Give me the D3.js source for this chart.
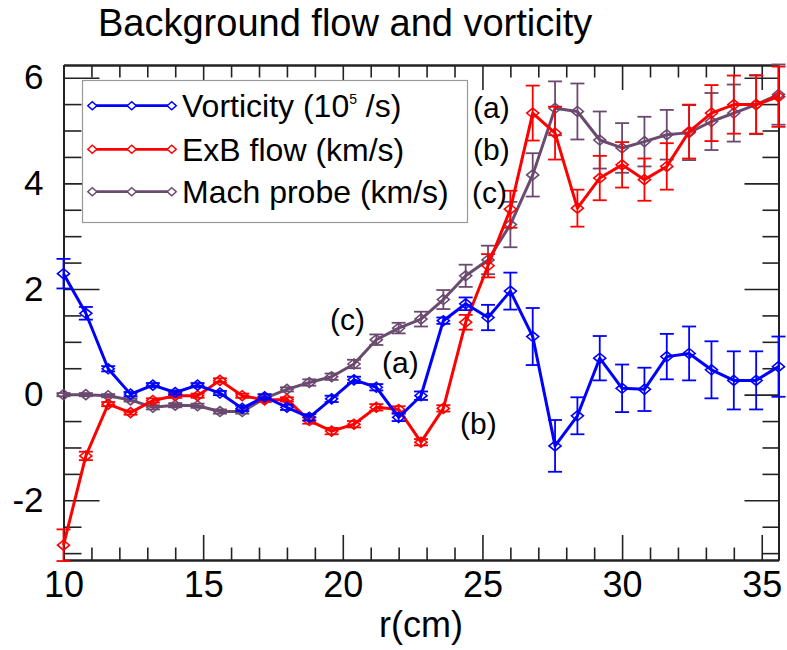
<!DOCTYPE html>
<meta charset="utf-8">
<style>
body { margin: 0; background: white; }
svg { display: block; }
text { font-family: "Liberation Sans", Arial, Helvetica, sans-serif; fill: black; }
.axis path, .axis line { stroke: #222; }
</style>
<body>
<script src="https://cdn.jsdelivr.net/npm/d3@7"></script>
<script>
// radius (cm)
var r = [10.0, 10.8, 11.6, 12.4, 13.2, 14.0, 14.8, 15.6, 16.4, 17.2, 18.0,
         18.8, 19.6, 20.4, 21.2, 22.0, 22.8, 23.6, 24.4, 25.2, 26.0, 26.8,
         27.6, 28.4, 29.2, 30.0, 30.8, 31.6, 32.4, 33.2, 34.0, 34.8, 35.6];

var vorticity = [2.29, 1.54, 0.49, 0.01, 0.18, 0.04, 0.18, 0.03, -0.26, -0.04, -0.24,
                 -0.43, -0.08, 0.28, 0.14, -0.43, -0.02, 1.40, 1.72, 1.46, 1.96, 1.10,
                 -0.97, -0.40, 0.69, 0.12, 0.10, 0.72, 0.78, 0.47, 0.27, 0.27, 0.53];
var vorticityErr = [0.28, 0.12, 0.05, 0.04, 0.04, 0.04, 0.04, 0.04, 0.05, 0.05, 0.05,
                    0.06, 0.06, 0.06, 0.06, 0.07, 0.08, 0.06, 0.12, 0.24, 0.35, 0.54,
                    0.49, 0.35, 0.42, 0.45, 0.41, 0.43, 0.51, 0.54, 0.55, 0.55, 0.57];

var exb = [-2.85, -1.16, -0.18, -0.34, -0.11, -0.02, -0.02, 0.27, -0.02, -0.10, -0.09,
           -0.49, -0.69, -0.56, -0.24, -0.28, -0.90, -0.26, 1.37, 2.44, 3.51, 5.33,
           4.95, 3.53, 4.10, 4.35, 4.07, 4.32, 4.98, 5.33, 5.49, 5.49, 5.64];
var exbErr = [0.30, 0.08, 0.04, 0.04, 0.04, 0.04, 0.04, 0.04, 0.04, 0.04, 0.04,
              0.06, 0.06, 0.06, 0.06, 0.06, 0.06, 0.06, 0.14, 0.22, 0.35, 0.52,
              0.50, 0.35, 0.42, 0.43, 0.40, 0.44, 0.51, 0.53, 0.55, 0.55, 0.57];

var mach = [0.00, 0.00, -0.02, -0.10, -0.24, -0.20, -0.21, -0.32, -0.32, -0.07, 0.10,
            0.23, 0.34, 0.58, 1.04, 1.26, 1.43, 1.80, 2.25, 2.55, 3.22, 4.16,
            5.42, 5.36, 4.82, 4.67, 4.79, 4.92, 4.96, 5.17, 5.33, 5.49, 5.68];
var machErr = [0.03, 0.03, 0.03, 0.03, 0.04, 0.04, 0.04, 0.04, 0.04, 0.04, 0.04,
               0.06, 0.06, 0.08, 0.10, 0.10, 0.14, 0.18, 0.21, 0.27, 0.43, 0.41,
               0.51, 0.53, 0.54, 0.47, 0.47, 0.47, 0.52, 0.54, 0.54, 0.56, 0.57];

var xMajor = [10, 15, 20, 25, 30, 35];
var xMinor = [11, 12, 13, 14, 16, 17, 18, 19, 21, 22, 23, 24, 26, 27, 28, 29, 31, 32, 33, 34];
var yMajor = [-2, 0, 2, 4, 6];
var yMinor = [-3, -2.5, -1.5, -1, -0.5, 0.5, 1, 1.5, 2.5, 3, 3.5, 4.5, 5, 5.5];

var seriesNames = ["Vorticity (10", "ExB flow (km/s)", "Mach probe (km/s)"];
var seriesColors = ["#0000ff", "#ff0000", "#6b4a6f"];

var width = 787, height = 650;
var svg = d3.select("body").append("svg")
    .attr("width", width)
    .attr("height", height);

var x = d3.scaleLinear().domain([10, 35.6]).range([63.5, 778.5]);
var y = d3.scaleLinear().domain([-3.13, 6.24]).range([560, 65]);

// plain hyphen minus, like the original plot
var intFormat = function(d) { return String(d); };

// title
svg.append("text")
    .attr("x", 98).attr("y", 36)
    .style("font-size", "38px")
    .text("Background flow and vorticity");

// axes (IDL style: ticks point inward, box all round)
function styleAxis(g) {
  g.selectAll("path").attr("stroke-width", 2);
  g.selectAll("line").attr("stroke-width", 1.6);
}

svg.append("g").attr("class", "axis")
    .attr("transform", "translate(0,560)")
    .call(d3.axisBottom(x).tickValues(xMajor).tickSize(-25).tickSizeOuter(0).tickPadding(11).tickFormat(intFormat))
    .call(styleAxis)
    .call(function(g) { g.selectAll("text").style("font-size", "36px").attr("fill", "black"); });
svg.append("g").attr("class", "axis")
    .attr("transform", "translate(0,560)")
    .call(d3.axisBottom(x).tickValues(xMinor).tickSize(-12.5).tickSizeOuter(0).tickFormat(""))
    .call(styleAxis);
svg.append("g").attr("class", "axis")
    .attr("transform", "translate(0,65)")
    .call(d3.axisTop(x).tickValues(xMajor).tickSize(-25).tickSizeOuter(0).tickFormat(""))
    .call(styleAxis);
svg.append("g").attr("class", "axis")
    .attr("transform", "translate(0,65)")
    .call(d3.axisTop(x).tickValues(xMinor).tickSize(-12.5).tickSizeOuter(0).tickFormat(""))
    .call(styleAxis);

svg.append("g").attr("class", "axis")
    .attr("transform", "translate(63.5,0)")
    .call(d3.axisLeft(y).tickValues(yMajor).tickSize(-36).tickSizeOuter(0).tickPadding(20).tickFormat(intFormat))
    .call(styleAxis)
    .call(function(g) { g.selectAll("text").style("font-size", "35px").attr("fill", "black"); });
svg.append("g").attr("class", "axis")
    .attr("transform", "translate(63.5,0)")
    .call(d3.axisLeft(y).tickValues(yMinor).tickSize(-18).tickSizeOuter(0).tickFormat(""))
    .call(styleAxis);
svg.append("g").attr("class", "axis")
    .attr("transform", "translate(778.5,0)")
    .call(d3.axisRight(y).tickValues(yMajor).tickSize(-34).tickSizeOuter(0).tickFormat(""))
    .call(styleAxis);
svg.append("g").attr("class", "axis")
    .attr("transform", "translate(778.5,0)")
    .call(d3.axisRight(y).tickValues(yMinor).tickSize(-16).tickSizeOuter(0).tickFormat(""))
    .call(styleAxis);

svg.append("text")
    .attr("x", (x(10) + x(35.6)) / 2).attr("y", 637)
    .attr("text-anchor", "middle")
    .style("font-size", "36px")
    .text("r(cm)");

// diamond marker path
function diamond(cx, cy, w, h) {
  return "M" + (cx - w) + "," + cy + "L" + cx + "," + (cy - h) +
         "L" + (cx + w) + "," + cy + "L" + cx + "," + (cy + h) + "Z";
}

var series = [
  {vals: mach, err: machErr, color: seriesColors[2]},
  {vals: exb, err: exbErr, color: seriesColors[1]},
  {vals: vorticity, err: vorticityErr, color: seriesColors[0]}
];

var line = d3.line()
    .x(function(d) { return x(d.r); })
    .y(function(d) { return y(d.v); });

series.forEach(function(s) {
  var pts = r.map(function(rv, i) { return {r: rv, v: s.vals[i], e: s.err[i]}; });
  var g = svg.append("g");
  // error bars
  var eb = g.selectAll(".err").data(pts).enter().append("g")
      .attr("stroke", s.color).attr("stroke-width", 1.8).attr("fill", "none");
  eb.append("line")
      .attr("x1", function(d) { return x(d.r); }).attr("x2", function(d) { return x(d.r); })
      .attr("y1", function(d) { return y(d.v - d.e); }).attr("y2", function(d) { return y(d.v + d.e); });
  eb.append("line")
      .attr("x1", function(d) { return x(d.r) - 7; }).attr("x2", function(d) { return x(d.r) + 7; })
      .attr("y1", function(d) { return y(d.v + d.e); }).attr("y2", function(d) { return y(d.v + d.e); });
  eb.append("line")
      .attr("x1", function(d) { return x(d.r) - 7; }).attr("x2", function(d) { return x(d.r) + 7; })
      .attr("y1", function(d) { return y(d.v - d.e); }).attr("y2", function(d) { return y(d.v - d.e); });
  g.append("path")
      .attr("d", line(pts))
      .attr("fill", "none")
      .attr("stroke", s.color)
      .attr("stroke-width", 3)
      .attr("stroke-linejoin", "round");
  g.selectAll(".mk").data(pts).enter().append("path")
      .attr("d", function(d) { return diamond(x(d.r), y(d.v), 6, 5); })
      .attr("fill", "none")
      .attr("stroke", s.color)
      .attr("stroke-width", 1.6);
});

// legend
var legend = svg.append("g");
legend.append("rect")
    .attr("x", 82.5).attr("y", 80.5).attr("width", 385).attr("height", 142)
    .attr("fill", "white").attr("stroke", "#999").attr("stroke-width", 1.2);
var rowsY = [105.7, 149.3, 191.7];
seriesNames.forEach(function(name, i) {
  var ly = rowsY[i], c = seriesColors[i];
  legend.append("line")
      .attr("x1", 88).attr("x2", 176).attr("y1", ly).attr("y2", ly)
      .attr("stroke", c).attr("stroke-width", 2.8);
  [92.3, 131.7, 171.7].forEach(function(cx) {
    legend.append("path")
        .attr("d", diamond(cx, ly, 4.5, 4))
        .attr("fill", "white").attr("stroke", c).attr("stroke-width", 1.5);
  });
  var t = legend.append("text")
      .attr("x", 182).attr("y", ly + 11.3)
      .style("font-size", "32px")
      .text(name);
  if (i === 0) {
    t.append("tspan").attr("dy", -13).style("font-size", "14px").text("5");
    t.append("tspan").attr("dy", 13).text(" /s)");
  }
});

// annotations
var notes = [
  {t: "(a)", x: 473, y: 118}, {t: "(b)", x: 473, y: 160}, {t: "(c)", x: 472, y: 203},
  {t: "(c)", x: 330, y: 330}, {t: "(a)", x: 382, y: 373}, {t: "(b)", x: 460, y: 434}
];
svg.selectAll(".note").data(notes).enter().append("text")
    .attr("x", function(d) { return d.x; })
    .attr("y", function(d) { return d.y; })
    .style("font-size", "30px")
    .text(function(d) { return d.t; });
</script>
</body>
